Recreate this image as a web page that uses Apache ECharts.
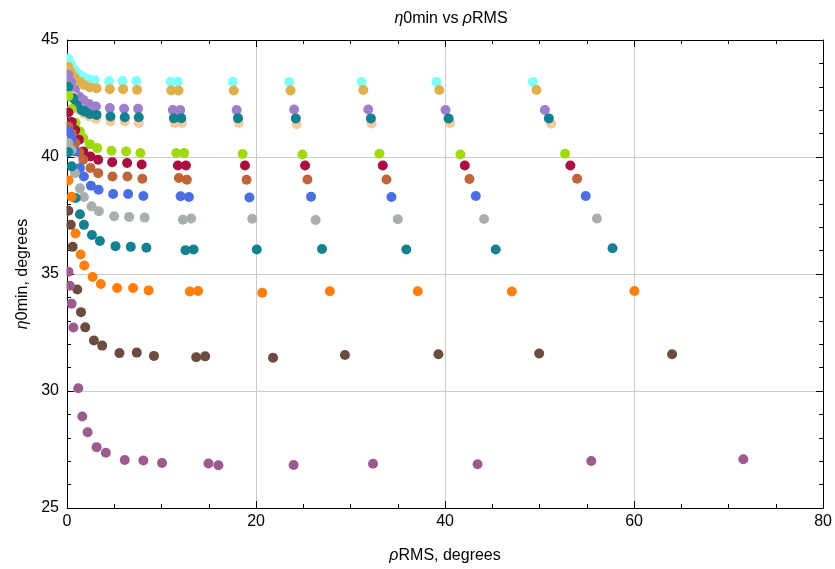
<!DOCTYPE html>
<html>
<head>
<meta charset="utf-8">
<script src="https://cdn.jsdelivr.net/npm/echarts@6/dist/echarts.min.js"></script>
<style>html,body{margin:0;padding:0;background:#fff}#c{width:835px;height:569px}</style>
</head>
<body>
<div id="c"></div>
<script>
// ---- data ----
const xTicks = [0, 20, 40, 60, 80];
const yTicks = [25, 30, 35, 40, 45];

const cyanX = [0.15, 0.45, 0.84, 1.37, 1.79, 2.35, 2.95, 4.46, 5.87, 7.34, 10.96, 11.73, 17.53, 23.5, 31.16, 39.1, 49.3];
const cyanY = [44.2, 43.95, 43.72, 43.51, 43.41, 43.32, 43.29, 43.25, 43.25, 43.25, 43.22, 43.22, 43.22, 43.21, 43.21, 43.21, 43.21];
const goldX = [0.15, 0.45, 0.84, 1.37, 1.79, 2.42, 3.13, 4.53, 5.94, 7.41, 11.03, 11.8, 17.64, 23.65, 31.35, 39.39, 49.68];
const goldY = [43.85, 43.6, 43.4, 43.22, 43.08, 42.98, 42.94, 42.9, 42.9, 42.87, 42.84, 42.84, 42.84, 42.84, 42.86, 42.86, 42.86];
const purpleX = [0.15, 0.45, 0.84, 1.3, 1.72, 2.35, 3.06, 4.53, 6.04, 7.52, 11.2, 11.98, 17.95, 24.03, 31.87, 40.05, 50.56];
const purpleY = [43.5, 43.2, 42.87, 42.58, 42.44, 42.26, 42.16, 42.09, 42.06, 42.06, 42.01, 42.01, 42.01, 42.03, 42.03, 42.01, 42.01];
const peachX = [0.15, 0.6, 0.9, 1.35, 1.8, 2.35, 3.06, 4.6, 6.11, 7.59, 11.38, 12.16, 18.16, 24.31, 32.22, 40.54, 51.23];
const peachY = [43.0, 42.6, 42.3, 42.0, 41.85, 41.73, 41.63, 41.52, 41.52, 41.45, 41.45, 41.45, 41.45, 41.4, 41.43, 41.45, 41.42];
const teal1X = [0.15, 0.67, 1.02, 1.55, 1.9, 2.42, 3.13, 4.6, 6.11, 7.59, 11.31, 12.09, 18.09, 24.21, 32.15, 40.37, 50.98];
const teal1Y = [43.0, 42.51, 42.23, 42.01, 41.94, 41.84, 41.8, 41.73, 41.7, 41.7, 41.66, 41.66, 41.66, 41.65, 41.65, 41.65, 41.65];
const limeX = [0.15, 0.5, 0.91, 1.37, 1.72, 2.42, 3.2, 4.71, 6.25, 7.77, 11.56, 12.4, 18.58, 24.91, 33.06, 41.63, 52.7];
const limeY = [42.6, 42.05, 41.45, 41.09, 40.81, 40.55, 40.38, 40.27, 40.24, 40.17, 40.17, 40.17, 40.13, 40.11, 40.14, 40.11, 40.14];
const crimsonX = [0.15, 0.5, 0.88, 1.26, 1.72, 2.49, 3.3, 4.78, 6.36, 7.9, 11.73, 12.58, 18.83, 25.19, 33.41, 42.09, 53.26];
const crimsonY = [41.9, 41.5, 41.15, 40.74, 40.24, 40.02, 39.88, 39.78, 39.74, 39.68, 39.64, 39.64, 39.64, 39.64, 39.64, 39.64, 39.64];
const rustX = [0.15, 0.5, 0.9, 1.3, 1.72, 2.49, 3.3, 4.81, 6.39, 7.97, 11.84, 12.68, 19.0, 25.44, 33.8, 42.58, 53.97];
const rustY = [41.3, 41.0, 40.6, 40.2, 39.88, 39.53, 39.31, 39.17, 39.17, 39.07, 39.1, 39.03, 39.03, 39.04, 39.04, 39.06, 39.07];
const blueX = [0.15, 0.5, 0.84, 1.37, 1.79, 2.53, 3.34, 4.88, 6.47, 8.08, 12.02, 12.9, 19.3, 25.82, 34.33, 43.25, 54.88];
const blueY = [41.1, 40.8, 40.24, 39.53, 39.17, 38.77, 38.6, 38.42, 38.42, 38.33, 38.32, 38.29, 38.27, 38.3, 38.29, 38.33, 38.33];
const grayX = [0.15, 0.5, 0.84, 1.37, 1.79, 2.6, 3.37, 4.99, 6.57, 8.22, 12.26, 13.14, 19.6, 26.31, 35.0, 44.13, 56.07];
const grayY = [40.6, 40.3, 39.31, 38.66, 38.29, 37.89, 37.68, 37.47, 37.44, 37.41, 37.32, 37.37, 37.36, 37.31, 37.34, 37.35, 37.37];
const teal2X = [0.15, 0.5, 0.91, 1.37, 1.79, 2.64, 3.48, 5.13, 6.75, 8.4, 12.54, 13.39, 20.08, 26.98, 35.9, 45.36, 57.72];
const teal2Y = [40.2, 39.6, 38.25, 37.55, 37.1, 36.67, 36.41, 36.19, 36.16, 36.12, 36.02, 36.05, 36.05, 36.07, 36.05, 36.05, 36.1];
const orangeX = [0.15, 0.5, 0.9, 1.44, 1.83, 2.71, 3.58, 5.3, 6.99, 8.64, 13.0, 13.88, 20.66, 27.81, 37.11, 47.07, 60.04];
const orangeY = [39.0, 38.3, 36.73, 35.83, 35.36, 34.87, 34.57, 34.4, 34.4, 34.3, 34.25, 34.27, 34.2, 34.26, 34.26, 34.25, 34.27];
const brownX = [0.15, 0.4, 0.6, 1.09, 1.48, 1.93, 2.85, 3.72, 5.55, 7.38, 9.2, 13.67, 14.62, 21.8, 29.41, 39.3, 49.96, 64.02];
const brownY = [37.7, 37.1, 36.16, 34.34, 33.37, 32.72, 32.16, 31.94, 31.62, 31.64, 31.5, 31.44, 31.48, 31.42, 31.54, 31.57, 31.6, 31.57];
const mauveX = [0.15, 0.3, 0.49, 0.67, 1.19, 1.62, 2.18, 3.13, 4.11, 6.11, 8.08, 10.05, 14.97, 16.02, 23.98, 32.38, 43.44, 55.47, 71.56];
const mauveY = [35.1, 34.5, 33.73, 32.71, 30.12, 28.91, 28.24, 27.6, 27.36, 27.05, 27.03, 26.92, 26.9, 26.83, 26.84, 26.89, 26.87, 27.01, 27.08];

const seriesDefs = [
  ['cyan', cyanX, cyanY, '#80ffff'],
  ['gold', goldX, goldY, '#dfb04c'],
  ['purple', purpleX, purpleY, '#9f7fcc'],
  ['peach', peachX, peachY, '#f4caa0'],
  ['teal1', teal1X, teal1Y, '#13818f'],
  ['lime', limeX, limeY, '#a1d90f'],
  ['crimson', crimsonX, crimsonY, '#a8113f'],
  ['rust', rustX, rustY, '#bf653a'],
  ['blue', blueX, blueY, '#4b6fe3'],
  ['gray', grayX, grayY, '#a8b0ae'],
  ['teal2', teal2X, teal2Y, '#13818f'],
  ['orange', orangeX, orangeY, '#ff7f0e'],
  ['brown', brownX, brownY, '#6d4b3e'],
  ['mauve', mauveX, mauveY, '#9c5b8e']
];

const FONT = 'Liberation Sans, Arial, sans-serif';
const chart = echarts.init(document.getElementById('c'), null, {renderer: 'canvas'});

const tickStyle = {color: '#000', width: 1};
const option = {
  animation: false,
  backgroundColor: '#fff',
  title: {
    text: '{i|η}0min vs {i|ρ}RMS',
    left: 446, top: 6, textAlign: 'center',
    textStyle: {fontFamily: FONT, fontSize: 16, fontWeight: 'normal', color: '#000',
      rich: {i: {fontFamily: FONT, fontSize: 16, fontStyle: 'italic', color: '#000'}}}
  },
  grid: {left: 67, right: 9, top: 40, bottom: 60, containLabel: false},
  // thin white strip just left of the plot frame, hiding the halves of points centred near x = 0
  graphic: [{
    type: 'rect', z: 50, silent: true,
    shape: {x: 61.5, y: 33, width: 5, height: 478},
    style: {fill: '#fff'}
  }],
  xAxis: [{
    type: 'value', position: 'bottom', min: xTicks[0], max: xTicks[xTicks.length - 1], interval: 20,
    name: '{i|ρ}RMS, degrees', nameLocation: 'middle', nameGap: 40,
    nameTextStyle: {fontFamily: FONT, fontSize: 16, color: '#000',
      rich: {i: {fontFamily: FONT, fontSize: 16, fontStyle: 'italic', color: '#000'}}},
    axisLine: {show: true, onZero: false, lineStyle: tickStyle},
    axisTick: {show: true, inside: true, length: 7, lineStyle: tickStyle},
    minorTick: {show: true, splitNumber: 4, length: 4, lineStyle: tickStyle},
    axisLabel: {fontFamily: FONT, fontSize: 16, color: '#000', margin: 6},
    splitLine: {show: true, lineStyle: {color: '#cccccc', width: 1}}
  }, {
    type: 'value', position: 'top', min: 0, max: 80, interval: 20,
    axisLine: {show: true, onZero: false, lineStyle: tickStyle},
    axisTick: {show: true, inside: true, length: 7, lineStyle: tickStyle},
    minorTick: {show: true, splitNumber: 4, length: 4, lineStyle: tickStyle},
    axisLabel: {show: false}, splitLine: {show: false}
  }],
  yAxis: [{
    type: 'value', position: 'left', min: yTicks[0], max: yTicks[yTicks.length - 1], interval: 5,
    name: '{i|η}0min, degrees', nameLocation: 'middle', nameGap: 34, nameRotate: 90,
    nameTextStyle: {fontFamily: FONT, fontSize: 16, color: '#000',
      rich: {i: {fontFamily: FONT, fontSize: 16, fontStyle: 'italic', color: '#000'}}},
    axisLine: {show: true, onZero: false, lineStyle: tickStyle},
    axisTick: {show: true, inside: true, length: 7, lineStyle: tickStyle},
    minorTick: {show: true, splitNumber: 5, length: 4, lineStyle: tickStyle},
    axisLabel: {fontFamily: FONT, fontSize: 16, color: '#000', margin: 8},
    splitLine: {show: true, lineStyle: {color: '#cccccc', width: 1}}
  }, {
    type: 'value', position: 'right', min: 25, max: 45, interval: 5,
    axisLine: {show: true, onZero: false, lineStyle: tickStyle},
    axisTick: {show: true, inside: true, length: 7, lineStyle: tickStyle},
    minorTick: {show: true, splitNumber: 5, length: 4, lineStyle: tickStyle},
    axisLabel: {show: false}, splitLine: {show: false}
  }],
  series: seriesDefs.map(([name, xs, ys, color]) => ({
    name, type: 'scatter', xAxisIndex: 0, yAxisIndex: 0,
    symbol: 'circle', symbolSize: 10,
    itemStyle: {color, opacity: 1},
    emphasis: {disabled: true},
    data: xs.map((x, i) => [x, ys[i]])
  }))
};
chart.setOption(option);
</script>
</body>
</html>
